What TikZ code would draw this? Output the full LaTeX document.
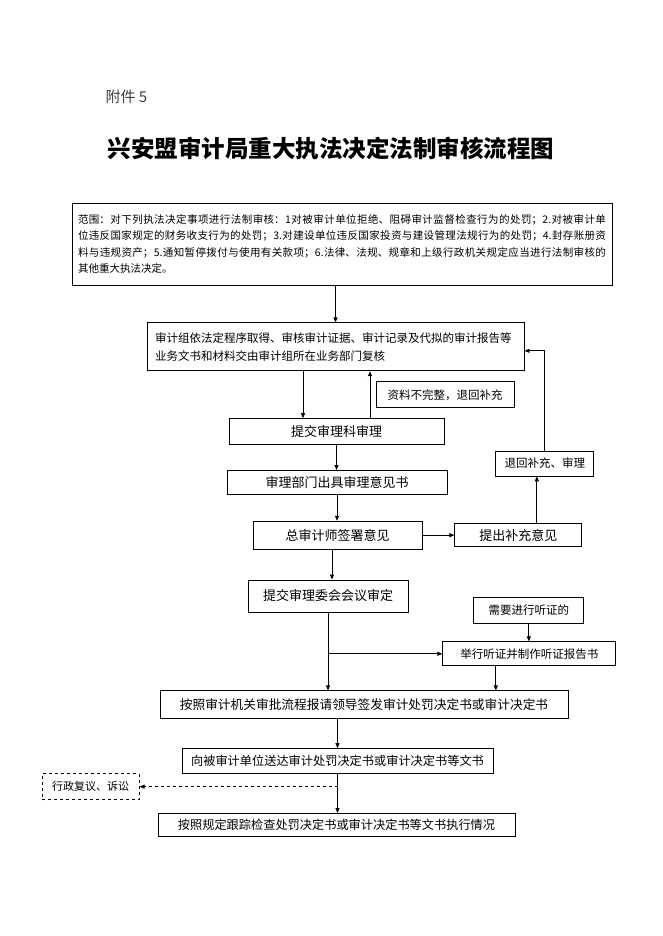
\documentclass[tikz,border=0pt]{standalone}
\usepackage{fontspec}
\setmainfont{Noto Sans CJK SC}
\usepackage{xcolor}
\usepackage{tikz}
\usetikzlibrary{arrows.meta,positioning}
\XeTeXlinebreaklocale "zh"
\XeTeXlinebreakskip=0pt plus 1pt

\begin{document}
\begin{tikzpicture}[x=1pt, y=-1pt, node distance=30pt,
  every node/.style={font=\fontsize{13}{15}\selectfont},
  box/.style={draw,line width=0.8pt,inner xsep=4pt,inner ysep=2pt,align=center},
  small/.style={font=\fontsize{11.5}{14}\selectfont},
  arr/.style={line width=0.8pt,-{Triangle[length=5pt,width=4pt]}}]
  \useasboundingbox[fill=white] (0,0) rectangle (662,936);
  \node[anchor=west,text=black!75,font=\fontsize{15}{18}\selectfont] (fj) at (102,97) {附件 5};
  \node[font=\fontsize{23.5}{28}\selectfont\bfseries] (title) at (331,148) {兴安盟审计局重大执法决定法制审核流程图};
  \node[box,text width=528pt,inner xsep=6pt,minimum height=82pt,align=justify,font=\fontsize{10.5}{16.3}\selectfont] (scope) at (342,244)
    {范围：对下列执法决定事项进行法制审核：1对被审计单位拒绝、阻碍审计监督检查行为的处罚；2.对被审计单\linebreak
     位违反国家规定的财务收支行为的处罚；3.对建设单位违反国家投资与建设管理法规行为的处罚；4.封存账册资\linebreak
     料与违规资产；5.通知暂停拨付与使用有关款项；6.法律、法规、规章和上级行政机关规定应当进行法制审核的\linebreak
     其他重大执法决定。};
  \node[box,below=37pt of scope,xshift=-6.5pt,text width=361pt,inner xsep=8pt,minimum height=48pt,align=left,font=\fontsize{11.5}{18}\selectfont] (audit)
    {审计组依法定程序取得、审核审计证据、审计记录及代拟的审计报告等\\业务文书和材料交由审计组所在业务部门复核};
  \node[box,below=47pt of audit,xshift=1pt,minimum width=215pt,minimum height=26pt] (submit) {提交审理科审理};
  \node[box,small,above=10pt of submit,xshift=108.5pt,minimum width=138pt,minimum height=26pt] (missing) {资料不完整，退回补充};
  \node[box,below=25pt of submit,xshift=0.5pt,minimum width=220pt,minimum height=24pt] (opinion) {审理部门出具审理意见书};
  \node[box,below=26pt of opinion,xshift=0.5pt,minimum width=169pt,minimum height=28pt] (chief) {总审计师签署意见};
  \node[box,right=32pt of chief,minimum width=127pt,minimum height=23pt] (suppl) {提出补充意见};
  \node[box,small,above=47pt of suppl,xshift=26.5pt,minimum width=98pt,minimum height=25pt] (back) {退回补充、审理};
  \node[box,below=30pt of chief,xshift=-9.5pt,minimum width=160pt,minimum height=32pt] (meeting) {提交审理委会会议审定};
  \node[box,small,right=65pt of meeting,yshift=-14pt,minimum width=110pt,minimum height=26pt] (need) {需要进行听证的};
  \node[box,small,below=18pt of need,xshift=0.5pt,minimum width=173pt,minimum height=24pt] (hearing) {举行听证并制作听证报告书};
  \node[box,below=78pt of meeting,xshift=36pt,minimum width=408pt,minimum height=28pt,font=\fontsize{12.7}{15}\selectfont] (approve) {按照审计机关审批流程报请领导签发审计处罚决定书或审计决定书};
  \node[box,below=29pt of approve,xshift=-26.5pt,minimum width=311pt,minimum height=25pt,font=\fontsize{12.2}{15}\selectfont] (deliver) {向被审计单位送达审计处罚决定书或审计决定书等文书};
  \node[box,below=39pt of deliver,xshift=-1pt,minimum width=357pt,minimum height=23pt,font=\fontsize{12.2}{15}\selectfont] (track) {按照规定跟踪检查处罚决定书或审计决定书等文书执行情况};
  \node[box,dashed,left=42pt of deliver,yshift=-25.5pt,minimum width=97pt,minimum height=26pt,font=\fontsize{11}{14}\selectfont] (review) {行政复议、诉讼};
  \draw[arr] (audit.north |- scope.south) -- (audit.north);
  \draw[arr] ([xshift=-33.5pt]submit.north |- audit.south) -- ([xshift=-33.5pt]submit.north);
  \draw[arr] ([xshift=33.5pt]submit.north) -- ([xshift=33.5pt]submit.north |- audit.south);
  \draw[arr] (submit.south) -- (submit.south |- opinion.north); \draw[arr] (opinion.south) -- (opinion.south |- chief.north);
  \draw[arr] (chief) -- (suppl);
  \draw[arr] ([xshift=18.5pt]suppl.north) -- ([xshift=18.5pt]suppl.north |- back.south);
  \draw[arr] (back.north) |- ([yshift=-4pt]audit.east);
  \draw[arr] ([xshift=-5.5pt]chief.south) -- ([xshift=-5.5pt]chief.south |- meeting.north);
  \draw[arr] (meeting.south) -- (meeting.south |- approve.north);
  \draw[arr] (meeting.south |- hearing.west) -- (hearing.west);
  \draw[arr] (need.south) -- (need.south |- hearing.north);
  \draw[arr] ([xshift=-33.5pt]hearing.south) -- ([xshift=-33.5pt]hearing.south |- approve.north);
  \draw[arr] (deliver.north |- approve.south) -- (deliver.north);
  \draw[arr] (deliver.south) -- (deliver.south |- track.north);
  \draw[arr,dashed] (deliver.south |- review.east) -- (review.east);
\end{tikzpicture}
\end{document}
